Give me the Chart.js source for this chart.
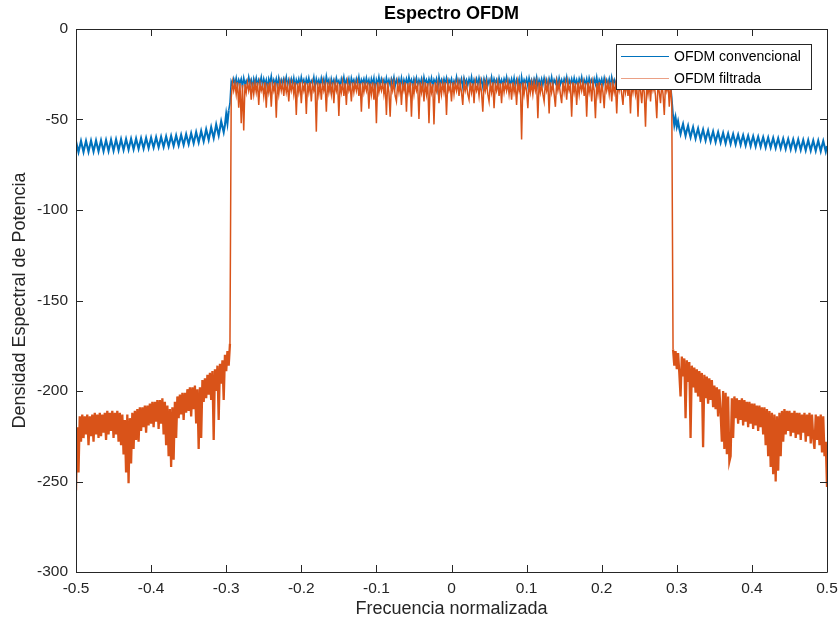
<!DOCTYPE html>
<html>
<head>
<meta charset="utf-8">
<script src="https://cdn.jsdelivr.net/npm/chart.js@4.4.1/dist/chart.umd.min.js"></script>
<style>
  html, body { margin: 0; padding: 0; background: #ffffff; }
  #wrap { width: 839px; height: 623px; }
</style>
</head>
<body>
<div id="wrap"><canvas id="c" width="839" height="623"></canvas></div>
<script>
// ---- Data (frequency grid -0.5 .. 0.5) ----
const FREQ_START = -0.5;
const FREQ_END = 0.5;

const xTickValues = [-0.5, -0.4, -0.3, -0.2, -0.1, 0, 0.1, 0.2, 0.3, 0.4, 0.5];
const xTickLabels = ['-0.5', '-0.4', '-0.3', '-0.2', '-0.1', '0', '0.1', '0.2', '0.3', '0.4', '0.5'];
const yTickValues = [-300, -250, -200, -150, -100, -50, 0];
const yTickLabels = ['-300', '-250', '-200', '-150', '-100', '-50', '0'];

const seriesNames = ['OFDM convencional', 'OFDM filtrada'];

// OFDM convencional (blue): out of band left, in band, out of band right
const blueOutLeft = [
  -62.0, -65.0, -68.0, -64.9, -61.9, -64.9, -67.9, -64.8, -61.8, -64.8, -67.8, -64.7,
  -61.7, -64.7, -67.7, -64.6, -61.6, -64.6, -67.6, -64.5, -61.5, -64.5, -67.5, -64.4,
  -61.4, -64.4, -67.4, -64.3, -61.2, -64.2, -67.2, -64.1, -61.0, -64.0, -67.0, -63.9,
  -60.9, -63.9, -66.8, -63.8, -60.8, -63.7, -66.6, -63.6, -60.7, -63.6, -66.4, -63.5,
  -60.5, -63.4, -66.2, -63.3, -60.4, -63.2, -66.0, -63.1, -60.2, -63.0, -65.8, -62.9,
  -60.0, -62.8, -65.5, -62.7, -59.8, -62.6, -65.3, -62.5, -59.6, -62.4, -65.1, -62.3,
  -59.4, -62.2, -64.9, -62.0, -59.1, -61.9, -64.6, -61.7, -58.8, -61.6, -64.3, -61.4,
  -58.5, -61.3, -64.0, -61.1, -58.1, -60.9, -63.6, -60.6, -57.6, -60.4, -63.1, -60.1,
  -57.0, -59.8, -62.6, -59.5, -56.3, -59.2, -62.0, -58.8, -55.4, -58.3, -61.2, -57.8,
  -54.3, -57.3, -60.2, -56.6, -52.8, -55.8, -58.8, -55.0, -51.0, -54.0, -57.0, -53.0,
  -47.0, -52.0, -45.0, -41.0
];
const blueInBand = [
  -29, -31, -27.5, -30.5, -27, -31.5, -28, -30, -27.5, -32, -27, -30.5, -28.5, -31, -26.5, -30, -28, -32.5, -27.5, -30.5,
  -27, -31, -28, -30, -26.5, -31.5, -27.5, -30.5, -28, -33, -27.5, -30, -26, -31, -28, -30.5, -27.5, -32, -27, -30.5,
  -28, -31, -27.5, -30, -26.5, -31.5, -28, -30.5, -27.5, -31, -27, -32, -28, -30.5, -27.5, -31, -26.5, -30, -28, -31.5,
  -27.5, -30.5, -27, -31, -28.5, -30, -26.5, -32, -27.5, -30.5, -28, -31, -27, -30.5, -27.5, -31.5, -26, -30, -28, -33,
  -27.5, -30.5, -28, -31, -27, -30, -28.5, -31.5, -27.5, -30.5, -26.5, -31, -28, -30.5, -27.5, -32, -27, -30, -28, -31,
  -27.5, -30.5, -26.5, -31.5, -28, -30, -27.5, -31, -27, -30.5, -28, -32, -27.5, -30.5, -27, -34, -28, -30.5, -26.5, -31,
  -27.5, -30, -28, -31.5, -27, -30.5, -28, -31, -27.5, -30, -26.5, -31.5, -28, -30.5, -27.5, -31, -27, -32, -28, -30.5,
  -27.5, -31, -26.5, -30, -28, -31.5, -27.5, -30.5, -27, -31, -28, -30.5, -27.5, -32, -26.5, -30, -28, -31, -27.5, -30.5,
  -27, -31.5, -28, -30, -27.5, -33, -26.5, -30.5, -28, -31, -27.5, -30.5, -27, -31, -28, -30, -27.5, -31.5, -28.5, -30.5,
  -26.5, -31, -28, -30.5, -27.5, -32, -27, -30, -28, -31, -27.5, -30.5, -26.5, -31.5, -28, -30, -27.5, -31, -27, -30.5,
  -28, -32, -27.5, -30.5, -27, -31, -28, -30.5, -26.5, -31, -27.5, -30, -28, -31.5, -27, -30.5, -28, -31, -27.5, -30,
  -26.5, -31.5, -28, -30.5, -27.5, -31, -27, -32, -28, -30.5, -27.5, -34, -26.5, -31, -28, -30, -27.5, -31.5, -27, -30.5,
  -28, -31, -27.5, -30, -26.5, -31.5, -28, -30.5, -27.5, -31, -27, -30.5, -28, -32, -27.5, -30.5, -26.5, -31, -28, -30,
  -27.5, -31.5, -27, -30.5, -28, -31, -27.5, -30, -26.5, -32, -28, -30.5, -27.5, -31, -27, -30.5, -28, -31.5, -27.5, -30,
  -26.5, -31, -28, -30.5, -27.5, -32, -27, -30, -28, -31, -27.5, -30.5, -26.5, -31.5, -28, -30, -27.5, -31, -27, -30.5,
  -28, -30.5, -27.5, -32, -26.5, -30, -28, -31, -27.5, -30.5, -27, -31.5, -28, -30, -27.5, -33, -26.5, -30.5, -28, -31,
  -27.5, -30.5, -27, -31, -28, -30, -26.5, -31.5, -27.5, -30.5, -28, -31, -27, -32, -27.5, -30.5, -28, -31, -26.5, -30,
  -28, -31.5, -27.5, -30.5, -27, -31, -28, -30, -27.5, -32, -28, -31, -38
];
const blueOutRight = [
  -47.0, -53.0, -49.0, -54.0, -51.0, -55.0, -58.0, -55.0, -52.5, -56.0, -59.0, -56.0,
  -53.5, -57.0, -59.8, -56.8, -54.3, -57.6, -60.5, -57.5, -55.0, -58.2, -61.1, -58.1,
  -55.6, -58.7, -61.6, -58.6, -56.1, -59.2, -62.0, -59.1, -56.6, -59.6, -62.4, -59.5,
  -57.0, -60.0, -62.8, -59.9, -57.4, -60.3, -63.1, -60.2, -57.8, -60.6, -63.4, -60.5,
  -58.1, -60.9, -63.7, -60.8, -58.4, -61.2, -64.0, -61.1, -58.7, -61.5, -64.3, -61.4,
  -59.0, -61.8, -64.6, -61.7, -59.3, -62.0, -64.8, -61.9, -59.5, -62.3, -65.0, -62.2,
  -59.8, -62.5, -65.3, -62.4, -60.0, -62.8, -65.5, -62.7, -60.2, -63.0, -65.7, -62.9,
  -60.4, -63.2, -65.9, -63.1, -60.6, -63.4, -66.2, -63.3, -60.8, -63.6, -66.4, -63.5,
  -61.0, -63.8, -66.6, -63.7, -61.1, -64.0, -66.8, -63.9, -61.3, -64.2, -67.0, -64.1,
  -61.4, -64.3, -67.1, -64.2, -61.6, -64.5, -67.3, -64.4, -61.7, -64.6, -67.5, -64.5,
  -61.9, -64.8, -67.7, -64.7
];

// OFDM filtrada (orange): out of band left, in band, out of band right
const orangeOutLeft = [
  -255, -220, -245, -214, -228, -213, -226, -214, -224, -213, -230, -214, -225, -213, -228, -212, -224, -213, -226, -212,
  -225, -213, -223, -212, -227, -211, -224, -212, -222, -211, -226, -212, -224, -211, -228, -212, -230, -213, -235, -216,
  -245, -213, -251, -215, -240, -212, -232, -211, -227, -210, -228, -209, -222, -209, -220, -208, -223, -208, -219, -207,
  -218, -206, -220, -206, -217, -205, -221, -205, -218, -204, -224, -206, -230, -208, -236, -210, -242, -209, -238, -206,
  -226, -203, -215, -202, -213, -201, -216, -201, -212, -199, -211, -198, -214, -198, -210, -197, -218, -199, -232, -198,
  -226, -194, -206, -193, -204, -191, -202, -190, -205, -189, -227, -188, -200, -186, -216, -185, -196, -183, -205, -180,
  -189, -178, -186, -174
];
const orangeInBand = [
  -38, -29.5, -34, -30, -36, -29.5, -43.5, -30, -52, -31, -56, -30.5, -35, -29.5, -34, -30, -39, -29.5, -36, -30,
  -35, -29.5, -42, -30, -34, -31, -37, -29.5, -43.5, -30, -35, -29.5, -43, -30.5, -34, -29.5, -49, -30, -36, -29.5,
  -34, -30, -37, -29.5, -35, -31, -40, -29.5, -34, -30, -36, -29.5, -47.5, -30, -35, -29.5, -41, -30.5, -34, -29.5,
  -47, -30, -35, -29.5, -40, -30, -34, -31, -56.7, -29.5, -36, -30, -39, -29.5, -34, -30.5, -45.7, -29.5, -35, -30,
  -36, -29.5, -41, -30, -34, -29.5, -48, -30.5, -35, -29.5, -37, -30, -42, -29.5, -34, -31, -40, -29.5, -35, -30,
  -34, -29.5, -37, -30, -45.7, -29.5, -35, -30.5, -34, -29.5, -44, -30, -36, -29.5, -39, -30, -52, -29.5, -35, -31,
  -34, -29.5, -36, -30, -47.5, -29.5, -35, -48.4, -30, -34, -29.5, -37, -40, -30, -35, -29.5, -42, -30.5, -34, -29.5,
  -45.7, -30, -35, -29.5, -48.4, -30, -36, -29.5, -34, -31, -49.7, -29.5, -35, -30, -40, -29.5, -36, -30, -52, -29.5,
  -35, -30.5, -52.7, -29.5, -34, -30, -41, -29.5, -36, -30, -35, -29.5, -47.5, -30, -34, -31, -40, -29.5, -36, -30,
  -34, -29.5, -37, -30, -35, -42, -29.5, -34, -30.5, -36, -39, -29.5, -35, -30, -41, -29.5, -34, -31, -37, -29.5,
  -35, -45.7, -30, -34, -29.5, -36, -40, -30, -35, -29.5, -43.8, -30.5, -34, -29.5, -37, -30, -41, -29.5, -35, -30,
  -34, -29.5, -36, -30, -39, -29.5, -35, -31, -42, -29.5, -34, -30, -61, -29.5, -36, -30.5, -34, -43.8, -29.5, -35,
  -30, -36, -29.5, -34, -30, -49.3, -29.5, -35, -31, -36, -40, -29.5, -34, -30, -46.6, -29.5, -35, -30.5, -36, -43,
  -29.5, -34, -30, -36, -41, -29.5, -35, -30, -39, -29.5, -34, -31, -48.4, -29.5, -35, -30, -42, -29.5, -36, -30,
  -34, -29.5, -37, -30, -48.4, -29.5, -35, -30.5, -40, -29.5, -34, -49.3, -30, -36, -29.5, -41, -30, -35, -43.8, -29.5,
  -34, -30, -36, -29.5, -40, -30, -35, -31, -46.6, -29.5, -34, -30, -36, -42, -29.5, -35, -30, -37, -29.5, -46.6,
  -30, -35, -29.5, -36, -30.5, -48.4, -29.5, -34, -41, -30, -35, -54, -29.5, -36, -30, -40, -29.5, -34, -31, -37,
  -49.3, -29.5, -35, -41, -30, -36, -47.5, -29.5, -34, -30, -43, -29.5, -42
];
const orangeOutRight = [
  -177, -186, -178, -188, -179, -190, -203, -181, -192, -182, -215, -183, -195, -184, -226, -186, -198, -187, -201, -188,
  -203, -189, -206, -190, -231, -191, -204, -192, -207, -193, -205, -194, -209, -197, -210, -198, -214, -199, -212, -228,
  -200, -232, -201, -235, -203, -239, -236, -204, -226, -203, -215, -204, -218, -205, -216, -204, -219, -205, -217, -206,
  -220, -206, -218, -207, -221, -207, -219, -208, -222, -208, -220, -209, -224, -209, -230, -210, -236, -211, -242, -212,
  -246, -213, -250, -214, -244, -212, -236, -211, -228, -210, -224, -211, -222, -211, -225, -212, -223, -211, -226, -212,
  -224, -212, -227, -213, -223, -212, -228, -213, -225, -212, -229, -213, -226, -232, -213, -227, -214, -230, -213, -234,
  -214, -236, -228, -253
];

// ---- Build datasets (values above, positions from the library scales) ----
const blueValues = blueOutLeft.concat(blueInBand, blueOutRight);
const orangeValues = orangeOutLeft.concat(orangeInBand, orangeOutRight);

function toPoints(vals) {
  const n = vals.length;
  return vals.map((v, i) => ({ x: FREQ_START + (FREQ_END - FREQ_START) * i / (n - 1), y: v }));
}

const AXIS_COLOR = '#262626';
const FONT = '"Liberation Sans", Arial, Helvetica, sans-serif';
const TITLE_TEXT = 'Espectro OFDM';

// line weight: the dense out-of-band parts read as a solid band in the reference
const outBand = (ctx, limit) => ctx.p0.parsed.y < limit && ctx.p1.parsed.y < limit;

const boxAndTicks = {
  id: 'boxAndTicks',
  afterDraw(chart) {
    const ctx = chart.ctx;
    const a = chart.chartArea;
    const xs = chart.scales.x, ys = chart.scales.y;
    const L = 7;
    ctx.save();
    ctx.strokeStyle = AXIS_COLOR;
    ctx.lineWidth = 1;
    ctx.beginPath();
    ctx.rect(Math.round(a.left) + 0.5, Math.round(a.top) + 0.5,
             Math.round(a.right) - Math.round(a.left), Math.round(a.bottom) - Math.round(a.top));
    xTickValues.forEach(v => {
      const px = Math.round(xs.getPixelForValue(v)) + 0.5;
      ctx.moveTo(px, a.bottom); ctx.lineTo(px, a.bottom - L);
      ctx.moveTo(px, a.top); ctx.lineTo(px, a.top + L);
    });
    yTickValues.forEach(v => {
      const py = Math.round(ys.getPixelForValue(v)) + 0.5;
      ctx.moveTo(a.left, py); ctx.lineTo(a.left + L, py);
      ctx.moveTo(a.right, py); ctx.lineTo(a.right - L, py);
    });
    ctx.stroke();

    // title centred over the axes (MATLAB style)
    ctx.fillStyle = '#000000';
    ctx.font = 'bold 18px ' + FONT;
    ctx.textAlign = 'center';
    ctx.textBaseline = 'middle';
    ctx.fillText(TITLE_TEXT, (a.left + a.right) / 2, 14);

    // legend box (MATLAB style)
    const bx = 616.5, by = 44.5, bw = 195, bh = 45;
    ctx.fillStyle = '#ffffff';
    ctx.fillRect(bx, by, bw, bh);
    ctx.strokeStyle = AXIS_COLOR;
    ctx.strokeRect(bx, by, bw, bh);
    const rows = [
      { y: 56, color: chart.data.datasets[0].borderColor, text: chart.data.datasets[0].label },
      { y: 78, color: '#EBA085', text: chart.data.datasets[1].label }
    ];
    ctx.font = '14px ' + FONT;
    ctx.textBaseline = 'middle';
    ctx.textAlign = 'left';
    rows.forEach(r => {
      ctx.strokeStyle = r.color;
      ctx.lineWidth = 1;
      ctx.beginPath();
      ctx.moveTo(621, r.y + 0.5); ctx.lineTo(669, r.y + 0.5);
      ctx.stroke();
      ctx.fillStyle = '#000000';
      ctx.fillText(r.text, 674, r.y + 1);
    });
    ctx.restore();
  }
};

new Chart(document.getElementById('c'), {
  type: 'line',
  data: {
    datasets: [
      { label: seriesNames[0], data: toPoints(blueValues), borderColor: '#0072BD', backgroundColor: '#0072BD',
        borderWidth: 1.5, pointRadius: 0, tension: 0, fill: false, order: 2,
        segment: { borderWidth: ctx => outBand(ctx, -44) ? 2.1 : 1.6 } },
      { label: seriesNames[1], data: toPoints(orangeValues), borderColor: '#D95319', backgroundColor: '#D95319',
        borderWidth: 1.5, pointRadius: 0, tension: 0, fill: false, order: 1,
        segment: { borderWidth: ctx => outBand(ctx, -100) ? 2.3 : 1.5 } }
    ]
  },
  options: {
    responsive: false,
    animation: false,
    devicePixelRatio: 1,
    layout: { padding: { left: 0, right: 12, top: 29, bottom: 0 } },
    plugins: {
      legend: { display: false },
      tooltip: { enabled: false },
      title: { display: false }
    },
    scales: {
      x: {
        type: 'linear', min: FREQ_START, max: FREQ_END,
        afterBuildTicks: s => { s.ticks = xTickValues.map(v => ({ value: v })); },
        afterFit: s => { s.height = 51; s.paddingLeft = 0; s.paddingRight = 0; },
        grid: { display: false, drawTicks: false },
        border: { display: false },
        ticks: { autoSkip: false, maxRotation: 0, padding: 7, color: AXIS_COLOR,
                 font: { family: FONT, size: 15.5 },
                 callback: (v, i) => xTickLabels[i] },
        title: { display: true, text: 'Frecuencia normalizada', color: AXIS_COLOR,
                 font: { family: FONT, size: 18 }, padding: { top: 0, bottom: 3 } }
      },
      y: {
        type: 'linear', min: -300, max: 0,
        afterBuildTicks: s => { s.ticks = yTickValues.map(v => ({ value: v })); },
        afterFit: s => { s.width = 76; s.paddingTop = 0; s.paddingBottom = 0; },
        grid: { display: false, drawTicks: false },
        border: { display: false },
        ticks: { autoSkip: false, padding: 8, color: AXIS_COLOR,
                 font: { family: FONT, size: 15.5 },
                 callback: (v, i) => yTickLabels[i] },
        title: { display: true, text: 'Densidad Espectral de Potencia', color: AXIS_COLOR,
                 font: { family: FONT, size: 18 }, padding: { top: 9, bottom: 0 } }
      }
    }
  },
  plugins: [boxAndTicks]
});
</script>
</body>
</html>
